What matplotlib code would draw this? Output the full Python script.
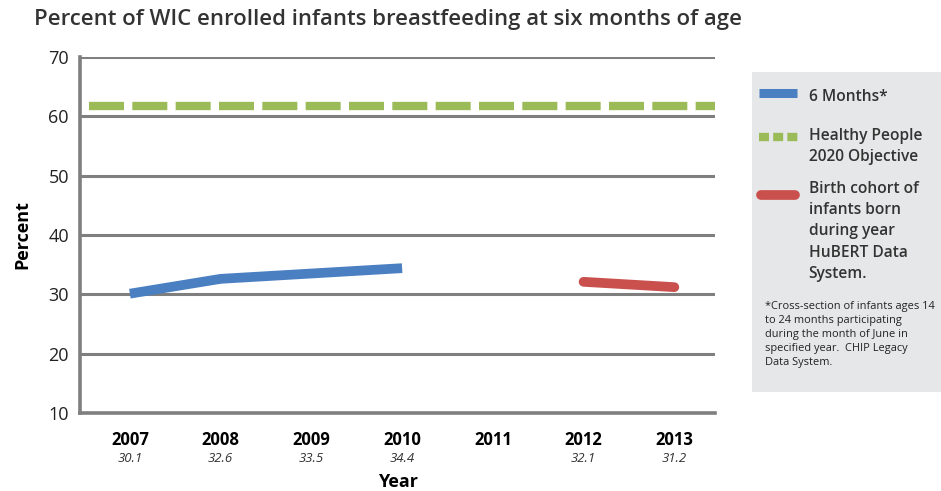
import matplotlib.pyplot as plt
from matplotlib.lines import Line2D

plt.rcParams['font.family'] = ['Open Sans', 'DejaVu Sans']

# data
years = [2007, 2008, 2009, 2010, 2011, 2012, 2013]
six_months_years = [2007, 2008, 2009, 2010]
six_months = [30.1, 32.6, 33.5, 34.4]
cohort_years = [2012, 2013]
cohort = [32.1, 31.2]
objective = 61.8
value_labels = ['30.1', '32.6', '33.5', '34.4', '', '32.1', '31.2']
yticks = [10, 20, 30, 40, 50, 60, 70]

BLUE = '#4a7fc1'
GREEN = '#9bbb59'
RED = '#c9504d'
GRID = '#7f7f7f'

fig = plt.figure(figsize=(9.41, 4.91), dpi=100)
ax = fig.add_axes([0.085, 0.159, 0.675, 0.725])

ax.set_xlim(2006.45, 2013.45)
ax.set_ylim(10, 70)
ax.set_yticks(yticks)
for y in yticks[1:]:
    ax.axhline(y, color=GRID, lw=2.2, zorder=1)

ax.plot([2006.55, 2013.45], [objective, objective], color=GREEN, lw=6,
        dashes=(4.2, 1.0), solid_capstyle='butt', zorder=3)
ax.plot(six_months_years, six_months, color=BLUE, lw=7,
        solid_capstyle='butt', zorder=3)
ax.plot(cohort_years, cohort, color=RED, lw=7,
        solid_capstyle='round', zorder=3)

for s in ['top', 'right']:
    ax.spines[s].set_visible(False)
for s in ['left', 'bottom']:
    ax.spines[s].set_color(GRID)
    ax.spines[s].set_linewidth(2.6)

ax.tick_params(axis='y', length=0, labelsize=13, pad=8, colors='#222222')
ax.set_xticks(years)
ax.set_xticklabels([str(y) for y in years], fontsize=12, fontweight='bold')
ax.tick_params(axis='x', length=0, pad=13)
for x, lab in zip(years, value_labels):
    ax.text(x, -0.11, lab, transform=ax.get_xaxis_transform(), ha='center',
            va='top', fontsize=9.5, style='italic', color='#333333')

ax.set_xlabel('Year', fontsize=13, fontweight='bold', labelpad=17)
ax.set_ylabel('Percent', fontsize=13, fontweight='bold', labelpad=12)

fig.text(0.036, 0.96, 'Percent of WIC enrolled infants breastfeeding at six months of age',
         fontsize=15.9, fontweight='semibold', color='#333333', va='center', ha='left')

# legend panel
lax = fig.add_axes([0.799, 0.202, 0.201, 0.652])
lax.set_facecolor('#e6e7e8')
lax.set_xlim(0, 1)
lax.set_ylim(0, 1)
lax.set_xticks([])
lax.set_yticks([])
for s in lax.spines.values():
    s.set_visible(False)

lax.add_line(Line2D([0.04, 0.24], [0.934, 0.934], color=BLUE, lw=6.5,
                    solid_capstyle='butt'))
lax.text(0.30, 0.922, '6 Months*', fontsize=11.2, fontweight='semibold',
         color='#333333', va='center')
lax.add_line(Line2D([0.04, 0.245], [0.797, 0.797], color=GREEN, lw=6,
                    dashes=(1.2, 0.5), solid_capstyle='butt'))
lax.text(0.30, 0.825, 'Healthy People\n2020 Objective', fontsize=11.2,
         fontweight='semibold', color='#333333', va='top', linespacing=1.45)
lax.add_line(Line2D([0.05, 0.23], [0.616, 0.616], color=RED, lw=7,
                    solid_capstyle='round'))
lax.text(0.30, 0.66, 'Birth cohort of\ninfants born\nduring year\nHuBERT Data\nSystem.',
         fontsize=11.2, fontweight='semibold', color='#333333', va='top', linespacing=1.45)
lax.text(0.07, 0.285, '*Cross-section of infants ages 14\nto 24 months participating\n'
         'during the month of June in\nspecified year.  CHIP Legacy\nData System.',
         fontsize=7.9, color='#222222', va='top', linespacing=1.4)

fig.savefig('out.png', dpi=100, facecolor='white')
